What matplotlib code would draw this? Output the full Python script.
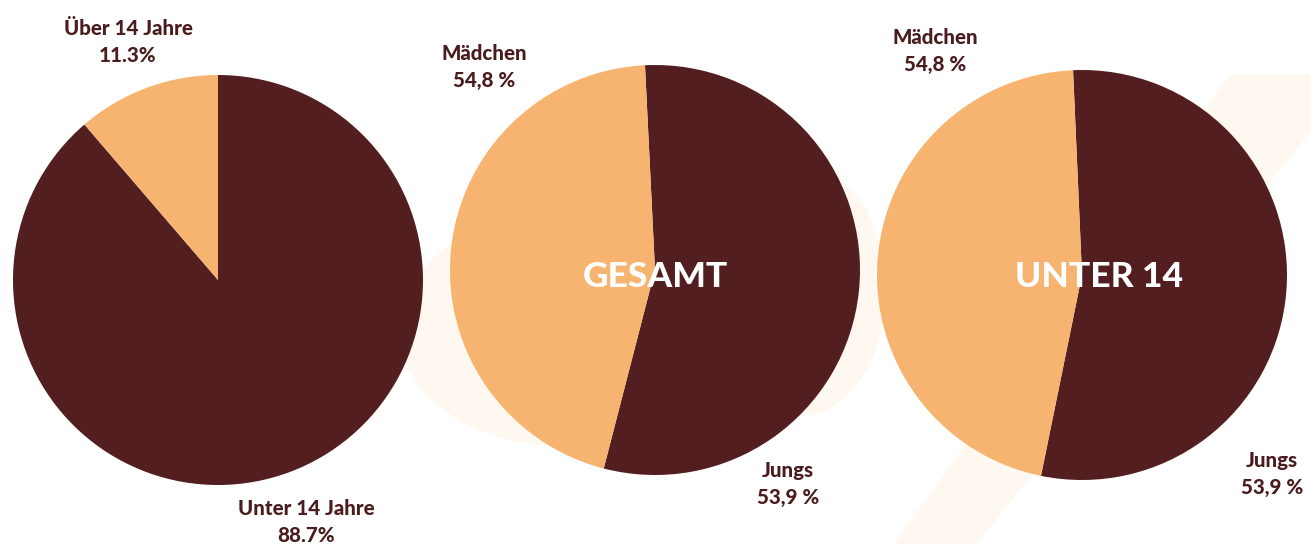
import matplotlib
matplotlib.use("Agg")
import matplotlib.pyplot as plt
from matplotlib.patches import Ellipse, Polygon

# ---- data ----
pie1_labels = ["Unter 14 Jahre", "Über 14 Jahre"]
pie1_values = [88.7, 11.3]
pie1_texts = ["Unter 14 Jahre\n88.7%", "Über 14 Jahre\n11.3%"]

pie2_title = "GESAMT"
pie2_labels = ["Jungs", "Mädchen"]
pie2_values = [54.8, 45.2]
pie2_texts = ["Jungs\n53,9 %", "Mädchen\n54,8 %"]

pie3_title = "UNTER 14"
pie3_labels = ["Jungs", "Mädchen"]
pie3_values = [53.9, 46.1]
pie3_texts = ["Jungs\n53,9 %", "Mädchen\n54,8 %"]

DARK = "#521E1F"
LIGHT = "#F6B470"
CREAM = "#FFF8F0"
TXT = "#4A1C1D"

W, H = 1311, 544
fig = plt.figure(figsize=(W / 100, H / 100), dpi=100)
fig.patch.set_facecolor("white")

# faint watermark shapes in background
bg = fig.add_axes([0, 0, 1, 1])
bg.set_xlim(0, W)
bg.set_ylim(H, 0)
bg.axis("off")
bg.add_patch(Ellipse((560, 330), 320, 230, color=CREAM, zorder=0))
bg.add_patch(Ellipse((800, 290), 170, 250, color=CREAM, zorder=0))
bg.add_patch(Polygon([[1230, 75], [1311, 75], [1311, 130], [975, 544], [895, 544]],
                     closed=True, color=CREAM, zorder=0))

R = 205

def make_pie(cx, cy, values, start):
    ax = fig.add_axes([(cx - R) / W, (H - cy - R) / H, 2 * R / W, 2 * R / H])
    ax.pie(values, colors=[DARK, LIGHT], startangle=start, counterclock=False,
           radius=1, wedgeprops=dict(linewidth=0))
    ax.set_xlim(-1, 1)
    ax.set_ylim(-1, 1)
    ax.set_aspect("auto")
    ax.axis("off")
    return ax

make_pie(218, 280, pie1_values, 90)
make_pie(655, 270, pie2_values, 92.8)
make_pie(1082, 275, pie3_values, 92.5)

font = dict(family=["Lato", "DejaVu Sans"], fontweight="black", color=TXT,
            fontsize=14.8, ha="center", va="center", linespacing=1.55)

def ftext(x, y, s, **kw):
    d = dict(font)
    d.update(kw)
    fig.text(x / W, 1 - y / H, s, **d)

ftext(128, 42, pie1_texts[1])
ftext(306, 522, pie1_texts[0])
ftext(484, 67, pie2_texts[1])
ftext(788, 484, pie2_texts[0])
ftext(935, 51, pie3_texts[1])
ftext(1272, 474, pie3_texts[0])

title_font = dict(family=["Lato", "DejaVu Sans"], fontweight="black", color="white",
                  fontsize=25.5, ha="center", va="center")
fig.text(655 / W, 1 - 277 / H, pie2_title, **title_font)
fig.text(1099 / W, 1 - 277 / H, pie3_title, **title_font)

fig.savefig("out.png", dpi=100, facecolor="white")
